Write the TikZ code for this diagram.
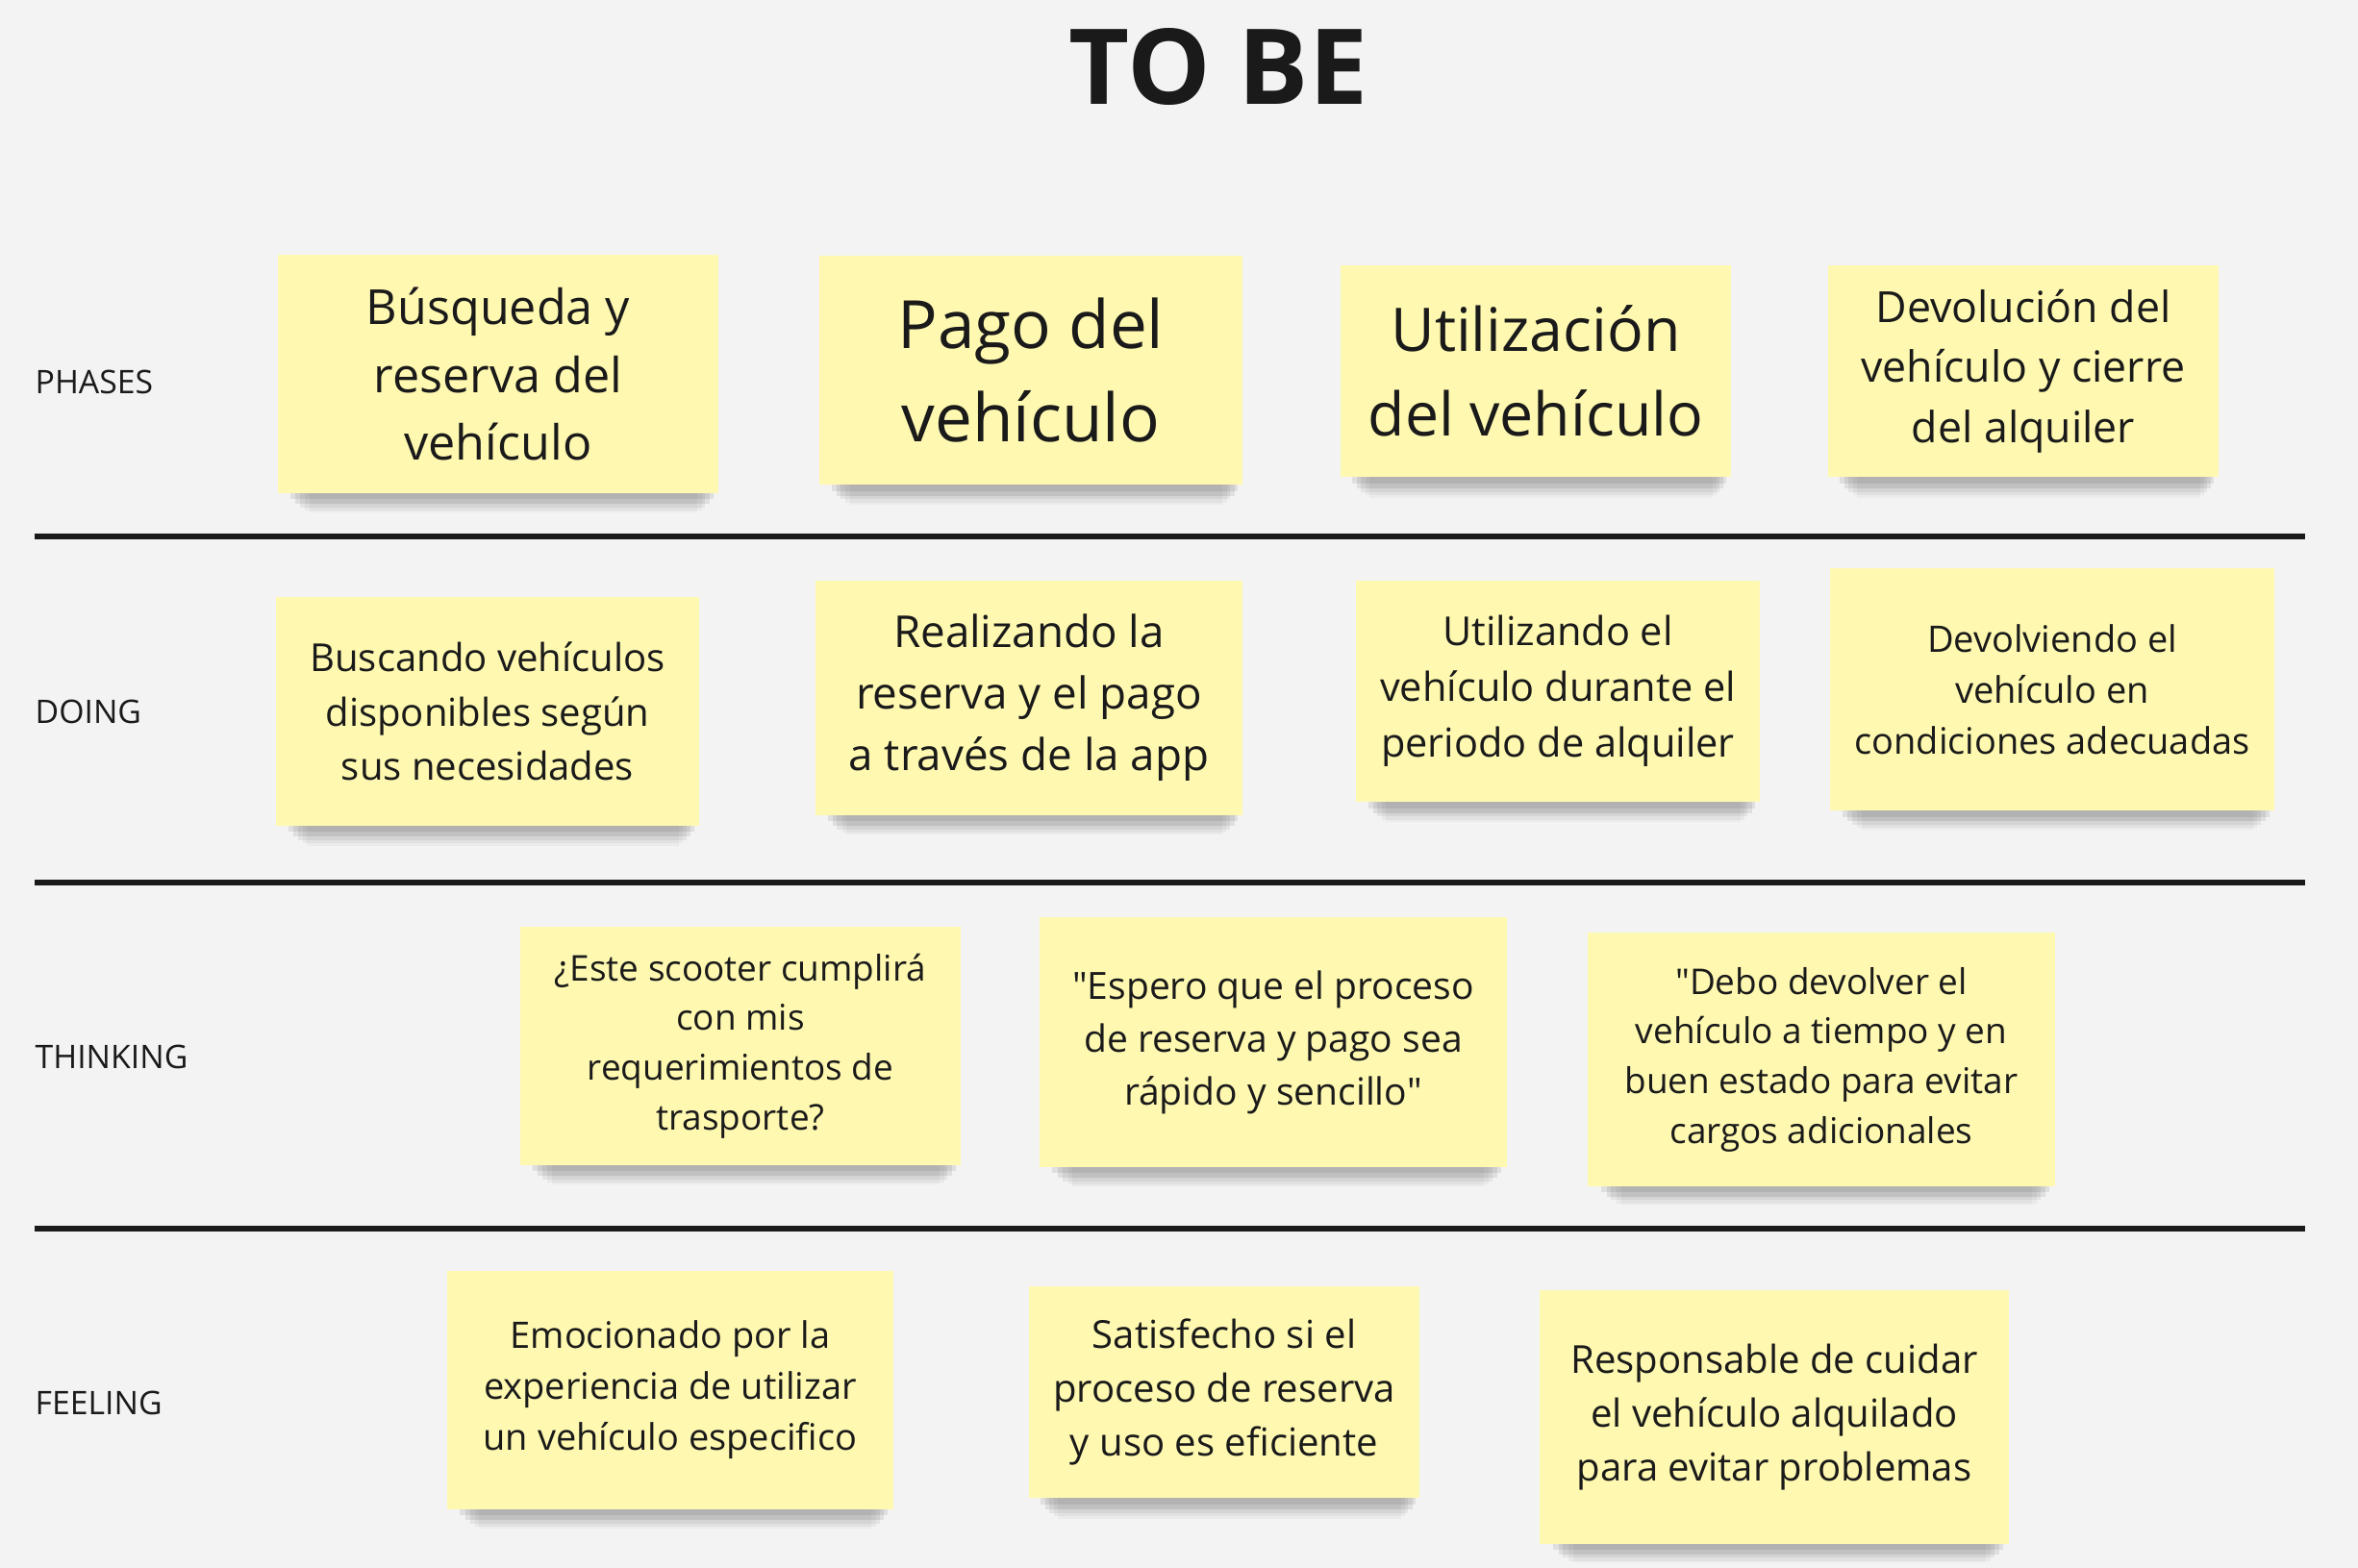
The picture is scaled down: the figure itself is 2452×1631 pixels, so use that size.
\documentclass[tikz,border=0pt]{standalone}
\usepackage{fontspec}
\setmainfont{Open Sans}
\newfontfamily\qfont{Open Sans}
\usetikzlibrary{shadows}
\usetikzlibrary{positioning}

\definecolor{boardbg}{HTML}{F3F3F3}
\definecolor{stickyy}{HTML}{FEF8B0}
\definecolor{inkc}{HTML}{1A1A1A}

\newcommand{\dq}{{\qfont"}}

\tikzset{
  sticky/.style={rectangle, fill=stickyy, align=center, text=inkc, inner sep=0pt,
    drop shadow={shadow scale=0.96, shadow xshift=0.04cm, shadow yshift=-0.12cm, opacity=0.08, fill=black},
    drop shadow={shadow scale=0.94, shadow xshift=0.05cm, shadow yshift=-0.20cm, opacity=0.08, fill=black},
    drop shadow={shadow scale=0.92, shadow xshift=0.05cm, shadow yshift=-0.27cm, opacity=0.06, fill=black},
    drop shadow={shadow scale=0.90, shadow xshift=0.06cm, shadow yshift=-0.34cm, opacity=0.04, fill=black},
    drop shadow={shadow scale=0.88, shadow xshift=0.06cm, shadow yshift=-0.40cm, opacity=0.03, fill=black}},
  rowlabel/.style={anchor=west, text=inkc, inner sep=0pt, font={\fontsize{9.6pt}{11pt}\selectfont}},
  rowline/.style={draw=inkc, line width=1.8pt}
}

\begin{document}
\begin{tikzpicture}[x=0.01cm, y=-0.01cm]
\fill[boardbg] (0,0) rectangle (2452,1631);

\node[text=inkc, font={\fontsize{31pt}{36pt}\selectfont\bfseries}] (title) at (1267,70) {TO BE};

\node[rowlabel] (phases) at (36,397) {PHASES};
\node[rowlabel] (doing) at (36,740) {DOING};
\node[rowlabel] (thinking) at (36,1099) {THINKING};
\node[rowlabel] (feeling) at (36,1459) {FEELING};

\draw[rowline] (36,558) -- (2397,558);
\draw[rowline] (36,918) -- (2397,918);
\draw[rowline] (36,1278) -- (2397,1278);

% phases
\node[sticky, minimum width=4.58cm, minimum height=2.47cm, font={\fontsize{14.3pt}{20pt}\selectfont}] (p1) at (518,389) {Búsqueda y\\reserva del\\vehículo};
\node[sticky, minimum width=4.40cm, minimum height=2.38cm, font={\fontsize{19.7pt}{27.6pt}\selectfont}] (p2) at (1072,385) {Pago del\\vehículo};
\node[sticky, minimum width=4.05cm, minimum height=2.19cm, font={\fontsize{17.8pt}{24.9pt}\selectfont}] (p3) at (1597,386) {Utilización\\del vehículo};
\node[sticky, minimum width=4.05cm, minimum height=2.19cm, font={\fontsize{12.7pt}{17.8pt}\selectfont}] (p4) at (2104,386) {Devolución del\\vehículo y cierre\\del alquiler};

% doing
\node[sticky, minimum width=4.39cm, minimum height=2.37cm, font={\fontsize{11.4pt}{16pt}\selectfont}] (d1) at (507,740) {Buscando vehículos\\disponibles según\\sus necesidades};
\node[sticky, minimum width=4.44cm, minimum height=2.43cm, font={\fontsize{13pt}{18.2pt}\selectfont}] (d2) at (1070,726) {Realizando la\\reserva y el pago\\a través de la app};
\node[sticky, minimum width=4.19cm, minimum height=2.29cm, font={\fontsize{11.8pt}{16.5pt}\selectfont}] (d3) at (1620,719) {Utilizando el\\vehículo durante el\\periodo de alquiler};
\node[sticky, minimum width=4.62cm, minimum height=2.52cm, font={\fontsize{10.8pt}{15.1pt}\selectfont}] (d4) at (2134,717) {Devolviendo el\\vehículo en\\condiciones adecuadas};

% thinking
\node[sticky, minimum width=4.58cm, minimum height=2.47cm, font={\fontsize{10.5pt}{14.7pt}\selectfont}] (t1) at (770,1088) {¿Este scooter cumplirá\\con mis\\requerimientos de\\trasporte?};
\node[sticky, minimum width=4.86cm, minimum height=2.60cm, font={\fontsize{11.1pt}{15.6pt}\selectfont}] (t2) at (1324,1084) {\dq Espero que el proceso\\de reserva y pago sea\\rápido y sencillo\dq};
\node[sticky, minimum width=4.85cm, minimum height=2.64cm, font={\fontsize{10.5pt}{14.7pt}\selectfont}] (t3) at (1894,1102) {\dq Debo devolver el\\vehículo a tiempo y en\\buen estado para evitar\\cargos adicionales};

% feeling
\node[sticky, minimum width=4.63cm, minimum height=2.47cm, font={\fontsize{10.8pt}{15.1pt}\selectfont}] (f1) at (697,1446) {Emocionado por la\\experiencia de utilizar\\un vehículo especifico};
\node[sticky, minimum width=4.06cm, minimum height=2.19cm, font={\fontsize{11.4pt}{16pt}\selectfont}] (f2) at (1273,1448) {Satisfecho si el\\proceso de reserva\\y uso es eficiente};
\node[sticky, minimum width=4.87cm, minimum height=2.64cm, font={\fontsize{11.4pt}{16pt}\selectfont}] (f3) at (1845,1474) {Responsable de cuidar\\el vehículo alquilado\\para evitar problemas};

\end{tikzpicture}
\end{document}
